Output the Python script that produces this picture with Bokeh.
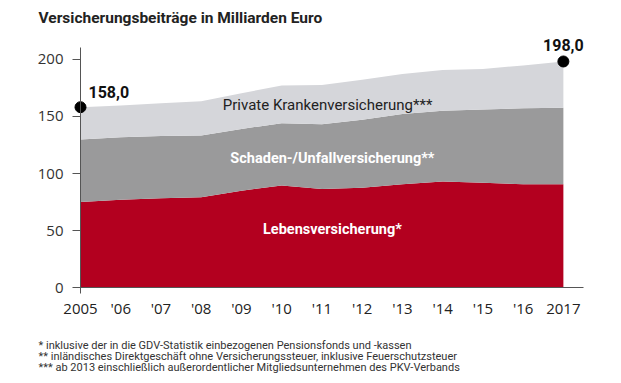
from bokeh.plotting import figure
from bokeh.models import ColumnDataSource, Label, FixedTicker
from bokeh.embed import file_html
from bokeh.resources import INLINE

years = [2005, 2006, 2007, 2008, 2009, 2010, 2011, 2012, 2013, 2014, 2015, 2016, 2017]
tick_labels = ["2005", "'06", "'07", "'08", "'09", "'10", "'11", "'12", "'13", "'14", "'15", "'16", "2017"]
leben = [75.0, 77.0, 78.4, 79.3, 85.0, 89.5, 86.5, 87.5, 90.5, 93.0, 92.0, 90.5, 90.5]
schaden = [54.7, 54.8, 54.3, 54.0, 54.0, 54.5, 56.5, 59.5, 61.5, 62.0, 64.0, 66.5, 67.0]
pkv = [28.3, 27.7, 28.8, 30.0, 31.3, 33.0, 34.5, 35.0, 35.0, 35.5, 35.5, 37.5, 40.5]
y_ticks = [0, 50, 100, 150, 200]
series_names = ["Lebensversicherung*", "Schaden-/Unfallversicherung**", "Private Krankenversicherung***"]
title_text = "Versicherungsbeiträge in Milliarden Euro"
footnotes = [
    "*  inklusive der in die GDV-Statistik einbezogenen Pensionsfonds und -kassen",
    "**  inländisches Direktgeschäft ohne Versicherungssteuer, inklusive Feuerschutzsteuer",
    "***  ab 2013 einschließlich außerordentlicher Mitgliedsunternehmen des PKV-Verbands",
]

RED = "#b3001f"
DARK = "#9a9a9b"
LIGHT = "#d5d6da"
TXT = "Roboto"
TICKFONT = "Open Sans"

W, H = 613, 375
# pixel layout of the plotting area inside the canvas
X0_PX, PX_PER_YEAR = 80.0, 40.24
Y0_PX, PX_PER_UNIT = 287.3, 1.143
x_start = 2005 - X0_PX / PX_PER_YEAR
x_end = 2005 + (W - X0_PX) / PX_PER_YEAR
y_end = Y0_PX / PX_PER_UNIT
y_start = -(H - Y0_PX) / PX_PER_UNIT

totals = [a + b + c for a, b, c in zip(leben, schaden, pkv)]

src = ColumnDataSource(dict(year=years, leben=leben, schaden=schaden, pkv=pkv))

p = figure(width=W, height=H, output_backend="svg", toolbar_location=None,
           x_range=(x_start, x_end), y_range=(y_start, y_end), min_border=0)
p.outline_line_color = None
p.xgrid.visible = False
p.ygrid.visible = False

p.varea_stack(stackers=["leben", "schaden", "pkv"], x="year", color=[RED, DARK, LIGHT], source=src)

# end dots
p.scatter(x=[years[0], years[-1]], y=[totals[0], totals[-1]], size=11, color="black")

def fmt(v):
    return f"{v:.1f}".replace(".", ",")

p.add_layout(Label(x=years[0], y=totals[0], text=fmt(totals[0]), x_offset=8, y_offset=15,
                   text_align="left", text_baseline="middle", text_font=TXT,
                   text_font_style="bold", text_font_size="16px", text_color="#111111"))
p.add_layout(Label(x=years[-1], y=totals[-1], text=fmt(totals[-1]), x_offset=0, y_offset=16,
                   text_align="center", text_baseline="middle", text_font=TXT,
                   text_font_style="bold", text_font_size="16px", text_color="#111111"))

# series labels inside the areas
p.add_layout(Label(x=2011.14, y=159.5, text=series_names[2], text_align="center", text_baseline="middle",
                   text_font=TXT, text_font_size="15px", text_color="#222222"))
p.add_layout(Label(x=2011.26, y=113, text=series_names[1], text_align="center", text_baseline="middle",
                   text_font=TXT, text_font_style="bold", text_font_size="14.5px", text_color="white"))
p.add_layout(Label(x=2011.26, y=51, text=series_names[0], text_align="center", text_baseline="middle",
                   text_font=TXT, text_font_style="bold", text_font_size="14.5px", text_color="white"))

# axes placed at fixed data locations inside the full-canvas frame
p.xaxis.fixed_location = 0
p.xaxis.bounds = (2005, 2017.5)
p.xaxis.ticker = FixedTicker(ticks=years)
p.xaxis.major_label_overrides = {y: l for y, l in zip(years, tick_labels)}
p.xaxis.major_tick_out = 0
p.xaxis.major_tick_in = 0
p.xaxis.minor_tick_line_color = None
p.xaxis.major_label_standoff = 10
p.xaxis.major_label_text_font = TICKFONT
p.xaxis.major_label_text_font_size = "15px"
p.xaxis.major_label_text_color = "#222222"
p.xaxis.axis_line_color = "#555555"

p.yaxis.fixed_location = 2005
p.yaxis.bounds = (-5, 210)
p.yaxis.ticker = FixedTicker(ticks=y_ticks)
p.yaxis.major_tick_out = 8
p.yaxis.major_tick_in = 0
p.yaxis.minor_tick_line_color = None
p.yaxis.major_label_standoff = 9
p.yaxis.major_label_text_font = TICKFONT
p.yaxis.major_label_text_font_size = "15px"
p.yaxis.major_label_text_color = "#333333"
p.yaxis.axis_line_color = "#555555"
p.yaxis.major_tick_line_color = "#555555"

# title (screen units from the bottom-left of the frame = canvas)
p.add_layout(Label(x=38, y=H - 17.5, x_units="screen", y_units="screen", text=title_text,
                   text_align="left", text_baseline="middle", text_font=TXT,
                   text_font_style="bold", text_font_size="15.5px", text_color="#222222"))

# footnotes
for txt, yy in zip(footnotes, [345, 356, 366.5]):
    p.add_layout(Label(x=38, y=H - yy, x_units="screen", y_units="screen", text=txt,
                       text_align="left", text_baseline="middle", text_font=TXT,
                       text_font_size="11px", text_color="#333333"))

open("out.html", "w").write(file_html(p, INLINE))
